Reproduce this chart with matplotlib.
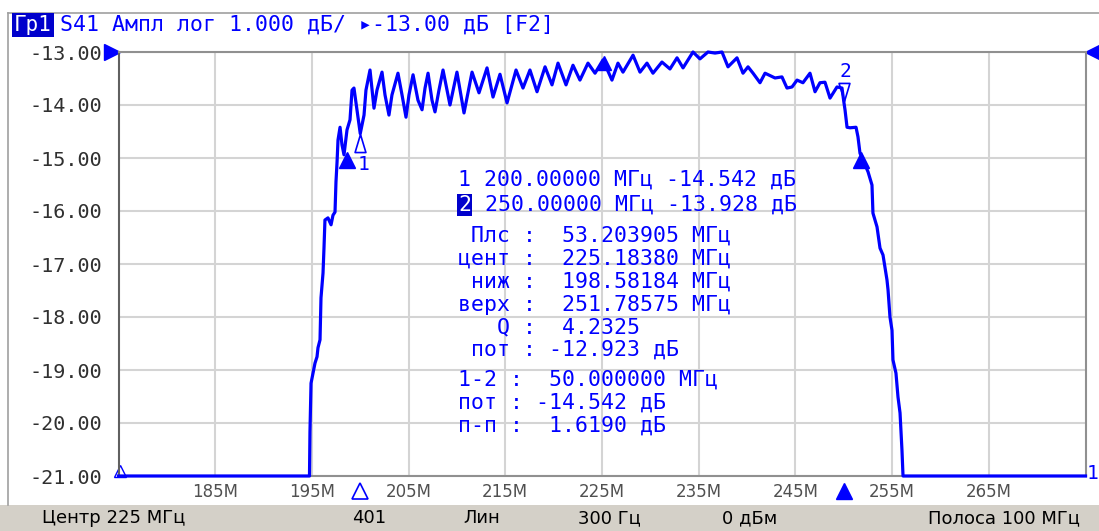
import matplotlib
matplotlib.use("Agg")
import matplotlib.pyplot as plt
from matplotlib.lines import Line2D
from matplotlib.patches import Rectangle
import matplotlib.transforms as mtransforms

W, H = 1099, 531

# S41 trace (MHz, dB)
lower_freq = [175.0, 194.75, 194.80, 194.91, 195.11, 195.32, 195.53, 195.63, 195.84,
              195.94, 196.15, 196.25, 196.35, 196.66, 196.98, 197.18, 197.39, 197.49,
              197.60]
lower_db = [-21.0, -21.0, -20.17, -19.25, -19.06, -18.87, -18.75, -18.58, -18.43,
            -17.64, -17.17, -16.70, -16.17, -16.13, -16.26, -16.08, -16.02, -15.45,
            -15.08]

pass_freq = [197.70, 197.91, 198.11, 198.32, 198.63, 198.94, 199.15, 199.35, 199.66,
             200.00, 200.39, 200.59, 201.01, 201.42, 201.73, 202.25, 202.56, 202.97,
             203.28, 203.90, 204.32, 204.73, 205.04, 205.46, 205.97, 206.39, 206.70,
             207.01, 207.42, 207.73, 208.14, 208.56, 209.28, 210.00, 210.73, 211.56,
             212.28, 213.11, 213.73, 214.45, 215.18, 216.11, 216.83, 217.55, 218.28,
             219.11, 219.83, 220.45, 221.28, 222.00, 222.72, 223.55, 224.28, 225.10,
             226.03, 226.65, 227.17, 228.21, 228.93, 229.65, 230.27, 231.20, 232.03,
             232.76, 233.38, 234.41, 235.13, 235.96, 236.69, 237.41, 238.03, 238.96,
             239.58, 240.10, 240.62, 241.34, 241.86, 242.89, 243.61, 244.13, 244.65,
             245.17, 245.78, 246.51, 247.03, 247.54, 248.06, 248.58, 249.30, 249.82,
             250.00]
pass_db = [-14.66, -14.42, -14.75, -14.94, -14.47, -14.28, -13.72, -13.68, -14.09,
           -14.54, -14.19, -13.72, -13.34, -14.06, -13.72, -13.38, -13.81, -14.19,
           -13.81, -13.40, -13.81, -14.23, -13.81, -13.43, -13.91, -14.09, -13.68,
           -13.40, -13.91, -14.13, -13.72, -13.34, -14.00, -13.38, -14.15, -13.38,
           -13.77, -13.30, -13.85, -13.42, -13.96, -13.34, -13.68, -13.34, -13.75,
           -13.28, -13.62, -13.21, -13.62, -13.25, -13.53, -13.21, -13.40, -13.15,
           -13.53, -13.21, -13.38, -13.06, -13.38, -13.21, -13.40, -13.19, -13.32,
           -13.11, -13.30, -12.96, -13.13, -12.95, -13.02, -12.92, -13.28, -13.11,
           -13.40, -13.28, -13.40, -13.58, -13.40, -13.49, -13.47, -13.68, -13.66,
           -13.53, -13.58, -13.40, -13.75, -13.58, -13.57, -13.87, -13.66, -13.68,
           -13.93]

upper_freq = [250.13, 250.34, 250.65, 251.27, 251.47, 251.68, 251.99, 252.51, 252.92,
              253.02, 253.44, 253.75, 254.06, 254.47, 254.58, 254.78, 254.99, 255.09,
              255.40, 255.61, 255.82, 256.02, 256.13, 275.0]
upper_db = [-14.09, -14.42, -14.43, -14.42, -14.60, -14.91, -15.04, -15.26, -15.51,
            -16.04, -16.30, -16.70, -16.83, -17.30, -17.49, -18.00, -18.25, -18.81,
            -19.06, -19.51, -19.81, -20.51, -21.0, -21.0]

x_ticks = [185, 195, 205, 215, 225, 235, 245, 255, 265]
x_labels = ["185M", "195M", "205M", "215M", "225M", "235M", "245M", "255M", "265M"]
y_ticks = [-21, -20, -19, -18, -17, -16, -15, -14, -13]

marker_freq = [200.0, 250.0]
marker_db = [-14.542, -13.928]
bw_freq = [198.58184, 251.78575]
bw_level = -15.03
center_freq = 225.1838
center_db = -13.20

readout = [
    "1 200.00000 МГц -14.542 дБ",
    "250.00000 МГц -13.928 дБ",
    " Плс :  53.203905 МГц",
    "цент :  225.18380 МГц",
    " ниж :  198.58184 МГц",
    "верх :  251.78575 МГц",
    "   Q :  4.2325",
    " пот : -12.923 дБ",
    "1-2 :  50.000000 МГц",
    "пот : -14.542 дБ",
    "п-п :  1.6190 дБ",
]
readout_x = [458, 485, 458, 458, 458, 458, 458, 458, 458, 458, 458]
readout_y = [180, 205, 236, 259, 282, 305, 327, 350, 380, 403, 426]

status = [("Центр 225 МГц", 42), ("401", 352), ("Лин", 463), ("300 Гц", 578),
          ("0 дБм", 722), ("Полоса 100 МГц", 928)]

BLUE = "#0000ff"
MONO = ["DejaVu Sans Mono", "DejaVu Sans"]
NARROW = ["Liberation Sans Narrow", "DejaVu Sans"]


def fx(x):
    return x / W


def fy(y):
    return 1 - y / H


fig = plt.figure(figsize=(W / 100, H / 100), dpi=100)
fig.patch.set_facecolor("white")

# outer frame and status bar
fig.add_artist(Line2D([fx(8), fx(8)], [fy(13), fy(505)], color="#a0a0a0", lw=1.2))
fig.add_artist(Line2D([fx(8), 1], [fy(13), fy(13)], color="#a0a0a0", lw=1.2))
fig.add_artist(Rectangle((0, 0), 1, 26 / H, transform=fig.transFigure,
                         facecolor="#d4d0c8", edgecolor="none"))
for txt, x in status:
    fig.text(fx(x), fy(518), txt, fontsize=13, family=NARROW, color="black",
             va="center", ha="left")

# header
fig.text(fx(14), fy(25), "Гр1", fontsize=15, family=MONO, color="white",
         va="center", ha="left",
         bbox=dict(facecolor="#0000cc", edgecolor="none", pad=1.5))
fig.text(fx(60), fy(25), "S41 Ампл лог 1.000 дБ/ ▸-13.00 дБ [F2]", fontsize=15.5,
         family=MONO, color=BLUE, va="center", ha="left")

ax = fig.add_axes([fx(118.5), fy(476), (1085.5 - 118.5) / W, (476 - 52) / H])
ax.set_xlim(175, 275)
ax.set_ylim(-21, -13)

freq = lower_freq + pass_freq + upper_freq
db = lower_db + pass_db + upper_db
shown = [min(max(v, -21.0), -13.0) for v in db]
ax.plot(freq, shown, color=BLUE, lw=2.3, clip_on=False, zorder=3)

ax.set_xticks(x_ticks)
ax.set_xticklabels(x_labels, fontsize=12, family=NARROW, color="#505050")
ax.set_yticks(y_ticks)
ax.set_yticklabels([f"{v:.2f}" for v in y_ticks], fontsize=14.5, family=MONO,
                   color="#303030")
ax.tick_params(axis="x", length=0, pad=5)
ax.tick_params(axis="y", length=0, pad=12)
ax.grid(True, color="#d4d4d4", lw=1.5)
ax.set_axisbelow(True)
for side in ["top", "right", "bottom"]:
    ax.spines[side].set_color("#909090")
    ax.spines[side].set_linewidth(1.5)
ax.spines["left"].set_color("#606060")
ax.spines["left"].set_linewidth(1.5)

# marker 1 (triangle under the trace) and marker 2 (triangle above the trace)
up_tri = [(0, 0), (-0.3, -1), (0.3, -1), (0, 0)]
down_tri = [(0, 0), (-0.3, 1), (0.3, 1), (0, 0)]
ax.plot(marker_freq[0], marker_db[0], marker=up_tri, ms=26, mfc="none", mec=BLUE,
        mew=1.2, zorder=4)
ax.plot(marker_freq[1], marker_db[1], marker=down_tri, ms=26, mfc="none", mec=BLUE,
        mew=1.2, zorder=4)
ax.annotate("1", (marker_freq[0], marker_db[0]), xytext=(3, -31),
            textcoords="offset pixels", fontsize=14, family=MONO, color=BLUE,
            ha="center", va="center")
ax.annotate("2", (marker_freq[1], marker_db[1]), xytext=(2, 30),
            textcoords="offset pixels", fontsize=14, family=MONO, color=BLUE,
            ha="center", va="center")

# bandwidth search points
ax.plot(bw_freq, [bw_level, bw_level], ls="none", marker="^", ms=11, color=BLUE,
        zorder=4)
ax.plot(center_freq, center_db, marker="^", ms=10, color=BLUE, zorder=4)

# marker flags below the frequency axis
xflag = mtransforms.blended_transform_factory(ax.transData, ax.transAxes)
ax.plot(marker_freq[0], -0.035, transform=xflag, marker="^", ms=11, mfc="none",
        mec=BLUE, mew=1.2, clip_on=False)
ax.plot(marker_freq[1], -0.035, transform=xflag, marker="^", ms=11, color=BLUE,
        clip_on=False)

# reference level arrows and edge flags
ax.plot(-0.007, 1.0, transform=ax.transAxes, marker=">", ms=11, color=BLUE,
        clip_on=False)
ax.plot(1.008, 1.0, transform=ax.transAxes, marker="<", ms=11, color=BLUE,
        clip_on=False)
ax.plot(0.002, 0.012, transform=ax.transAxes, marker="^", ms=8, mfc="none",
        mec=BLUE, mew=1.0, clip_on=False)
ax.text(1.007, 0.005, "1", transform=ax.transAxes, fontsize=14, family=MONO,
        color=BLUE, ha="center", va="center")

# marker readout
for line, x, y in zip(readout, readout_x, readout_y):
    fig.text(fx(x), fy(y), line, fontsize=15.5, family=MONO, color=BLUE,
             va="center", ha="left")
fig.text(fx(458), fy(205), "2", fontsize=15.5, family=MONO, color="white",
         va="center", ha="left",
         bbox=dict(facecolor="#0000cc", edgecolor="none", pad=0.5))

fig.savefig("out.png", dpi=100)
